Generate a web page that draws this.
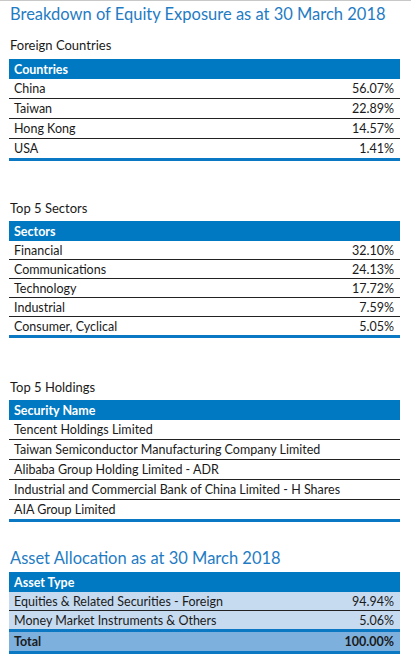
<!DOCTYPE html>
<html>
<head>
<meta charset="utf-8">
<script src="https://cdn.jsdelivr.net/npm/chart.js@4.4.1/dist/chart.umd.min.js"></script>
<style>
  html, body { margin: 0; padding: 0; background: #fff; }
  body {
    width: 411px; height: 662px; position: relative; overflow: hidden;
    font-family: Lato, "Noto Sans", sans-serif; color: #1a1a1a;
    border-top: 1px solid #c8c8c8; box-sizing: border-box;
  }
  .title { position: absolute; left: 10px; font-size: 16.5px; color: #1f7cc4; white-space: nowrap; }
  .sub { position: absolute; left: 10px; font-size: 13px; white-space: nowrap; }
  table { position: absolute; left: 9px; width: 391px; border-collapse: collapse; font-size: 12.5px; }
  th { background: #0079c2; color: #fff; text-align: left; font-weight: bold; padding: 0 0 0 5px; height: 20px; }
  td { padding: 0 6px 0 5px; height: 19px; border-top: 1.5px solid #222; white-space: nowrap; }
  tr:nth-child(2) td { border-top: none; }
  td.v { text-align: right; }
  table.t tr:last-child td { border-bottom: 3px solid #0a78c2; }
  table.short td { height: 18px; }
  .alloc td { background: #c6daf0; height: 18px; }
  .alloc tr.total td { background: #7eb0dd; font-weight: bold; height: 19px; border-top: 3px solid #0a78c2; border-bottom: 3px solid #0a78c2; }
</style>
</head>
<body>
<script>
const countries = ['China', 'Taiwan', 'Hong Kong', 'USA'];
const countryPct = ['56.07%', '22.89%', '14.57%', '1.41%'];
const sectors = ['Financial', 'Communications', 'Technology', 'Industrial', 'Consumer, Cyclical'];
const sectorPct = ['32.10%', '24.13%', '17.72%', '7.59%', '5.05%'];
const holdings = [
  'Tencent Holdings Limited',
  'Taiwan Semiconductor Manufacturing Company Limited',
  'Alibaba Group Holding Limited - ADR',
  'Industrial and Commercial Bank of China Limited - H Shares',
  'AIA Group Limited'
];
const assetTypes = ['Equities & Related Securities - Foreign', 'Money Market Instruments & Others'];
const assetPct = ['94.94%', '5.06%'];
const totalLabel = 'Total';
const totalPct = '100.00%';

function el(tag, cls, text) {
  const e = document.createElement(tag);
  if (cls) e.className = cls;
  if (text !== undefined) e.textContent = text;
  return e;
}

function addText(cls, text, top) {
  const d = el('div', cls, text);
  d.style.top = top + 'px';
  document.body.appendChild(d);
}

function addTable(header, labels, values, top, cls) {
  const t = el('table', cls);
  t.style.top = top + 'px';
  const hr = el('tr');
  const th = el('th', null, header);
  th.colSpan = 2;
  hr.appendChild(th);
  t.appendChild(hr);
  labels.forEach(function(l, i) {
    const r = el('tr');
    r.appendChild(el('td', null, l));
    r.appendChild(el('td', 'v', values ? values[i] : ''));
    t.appendChild(r);
  });
  document.body.appendChild(t);
  return t;
}

addText('title', 'Breakdown of Equity Exposure as at 30 March 2018', 3);
addText('sub', 'Foreign Countries', 36);
addTable('Countries', countries, countryPct, 58, 't');

addText('sub', 'Top 5 Sectors', 199);
addTable('Sectors', sectors, sectorPct, 220, 't short');

addText('sub', 'Top 5 Holdings', 378);
addTable('Security Name', holdings, null, 399, 't');

addText('title', 'Asset Allocation as at 30 March 2018', 547);
const alloc = addTable('Asset Type', assetTypes, assetPct, 571, 'alloc');
const tr = el('tr', 'total');
tr.appendChild(el('td', null, totalLabel));
tr.appendChild(el('td', 'v', totalPct));
alloc.appendChild(tr);
</script>
</body>
</html>
